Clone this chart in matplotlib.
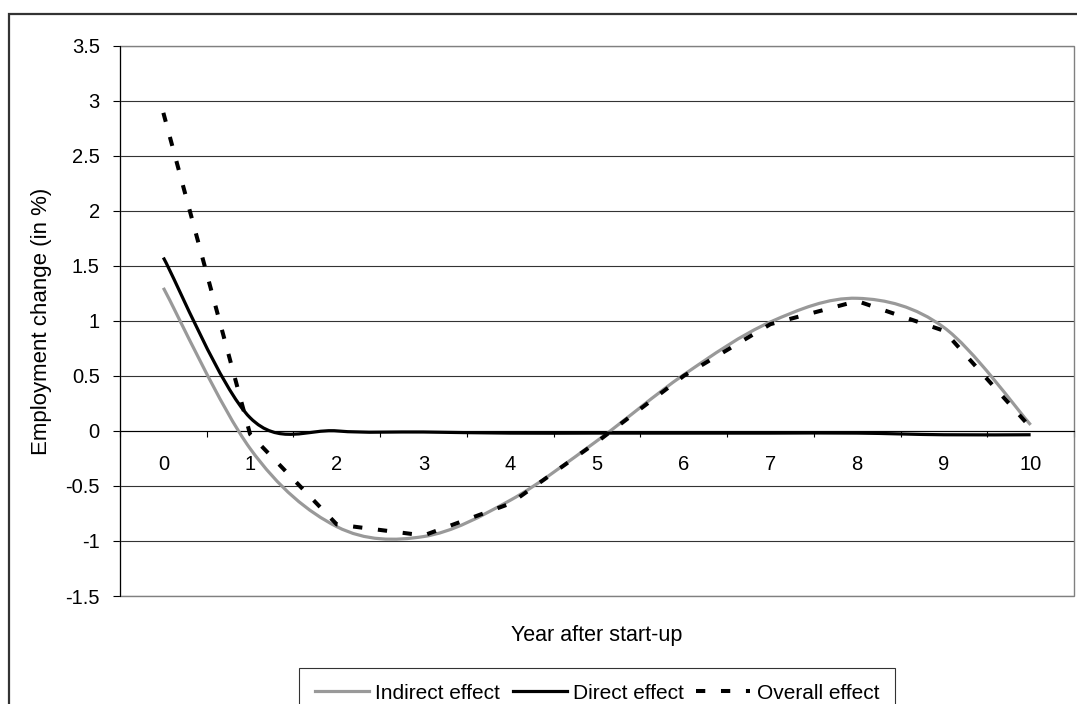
import numpy as np
import matplotlib
matplotlib.use("Agg")
import matplotlib.pyplot as plt
from matplotlib.path import Path
from matplotlib.patches import PathPatch, Rectangle
from matplotlib.lines import Line2D

plt.rcParams['font.family'] = ['Liberation Sans', 'DejaVu Sans']
plt.rcParams['axes.unicode_minus'] = False

# --- data ---
years = [0, 1, 2, 3, 4, 5, 6, 7, 8, 9, 10]
indirect = [1.30, -0.16, -0.87, -0.96, -0.63, -0.09, 0.51, 0.99, 1.205, 0.94, 0.055]
direct = [1.575, 0.12, 0.0, -0.01, -0.02, -0.02, -0.02, -0.02, -0.02, -0.035, -0.035]
overall = [2.89, -0.03, -0.85, -0.95, -0.66, -0.10, 0.50, 0.97, 1.18, 0.91, 0.03]
yticks = [-1.5, -1, -0.5, 0, 0.5, 1, 1.5, 2, 2.5, 3, 3.5]

W, H = 1077, 704


def smooth_path(xs, ys):
    """Excel-style smoothed line: cubic bezier through the points"""
    px = np.asarray(xs, float)
    py = np.asarray(ys, float)
    n = len(px)
    verts = [(px[0], py[0])]
    codes = [Path.MOVETO]
    for i in range(n - 1):
        i0 = max(i - 1, 0)
        i3 = min(i + 2, n - 1)
        c1 = (px[i] + (px[i + 1] - px[i0]) / 6, py[i] + (py[i + 1] - py[i0]) / 6)
        c2 = (px[i + 1] - (px[i3] - px[i]) / 6, py[i + 1] - (py[i3] - py[i]) / 6)
        verts += [c1, c2, (px[i + 1], py[i + 1])]
        codes += [Path.CURVE4] * 3
    return Path(verts, codes)


fig = plt.figure(figsize=(W / 100, H / 100), dpi=100)
ax = fig.add_axes([120 / W, 1 - 596 / H, (1074 - 120) / W, (596 - 45.7) / H])

gray = '#999999'
ax.add_patch(PathPatch(smooth_path(years, indirect), fill=False, ec=gray, lw=2.3,
                       capstyle='butt', joinstyle='round', zorder=3))
ax.add_patch(PathPatch(smooth_path(years, direct), fill=False, ec='black', lw=2.3,
                       capstyle='butt', joinstyle='round', zorder=4))
ax.plot(years, overall, color='black', lw=2.9, dashes=(2.3, 3.9), zorder=5,
        dash_capstyle='butt')

ax.set_xlim(-0.5, 10.5)
ax.set_ylim(-1.5, 3.5)

# y axis
ax.set_yticks(yticks)
ax.set_yticklabels(['%g' % v for v in yticks])
ax.tick_params(axis='y', direction='out', length=5, width=0.8, pad=9.6,
               labelsize=14.5, color='black')
ax.grid(axis='y', color='#333333', lw=0.8, zorder=1)
ax.set_axisbelow(True)

# category axis crossing at zero
ax.spines['bottom'].set_position(('data', 0))
ax.spines['bottom'].set_linewidth(0.8)
ax.spines['left'].set_linewidth(0.8)
ax.set_xticks(np.arange(-0.5, 11, 1.0))
ax.set_xticklabels([])
ax.set_xticks(years, minor=True)
ax.set_xticklabels([str(v) for v in years], minor=True)
ax.tick_params(axis='x', which='major', direction='out', length=4.3, width=0.8)
ax.tick_params(axis='x', which='minor', length=0, pad=17, labelsize=14.5)

for side in ['top', 'right']:
    ax.spines[side].set_visible(False)
ax.add_patch(Rectangle((0, 0), 1, 1, transform=ax.transAxes, fill=False,
                       ec='#808080', lw=1.0, zorder=2, clip_on=False))

fig.text(42 / W, 1 - 321 / H, 'Employment change (in %)', rotation=90,
         ha='center', va='center', fontsize=16)
fig.text(597 / W, 1 - 635 / H, 'Year after start-up', ha='center', va='center',
         fontsize=15.5)

handles = [
    Line2D([], [], color=gray, lw=2.3),
    Line2D([], [], color='black', lw=2.3),
    Line2D([], [], color='black', lw=2.9, dashes=(2.3, 3.9)),
]
leg = fig.legend(handles, ['Indirect effect', 'Direct effect', 'Overall effect'],
                 loc='upper center', bbox_to_anchor=(597 / W, 1 - 668 / H),
                 ncol=3, fontsize=15, frameon=True, fancybox=False,
                 handlelength=2.6, handletextpad=0.3, columnspacing=0.6,
                 borderpad=0.75, borderaxespad=0)
leg.get_frame().set_edgecolor('black')
leg.get_frame().set_linewidth(0.8)

# outer chart border (runs past the right and bottom image edges)
fig.add_artist(Rectangle((9 / W, -0.2), 1.2, 1 - 14 / H + 0.2,
                         transform=fig.transFigure, fill=False,
                         ec='#333333', lw=1.6))

fig.savefig('out.png', dpi=100)
